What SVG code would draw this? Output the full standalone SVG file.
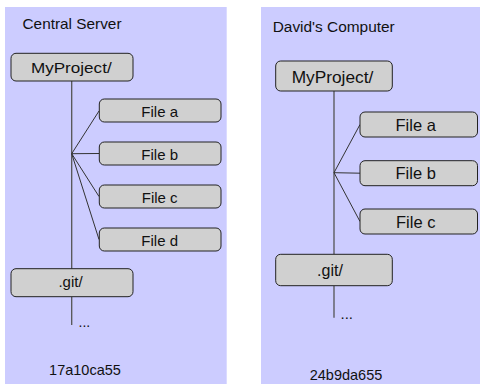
<svg xmlns="http://www.w3.org/2000/svg" width="480" height="384" viewBox="0 0 480 384">
<style>
.panel{fill:#ccccff}
.box{fill:#d0d0d0;stroke:#222;stroke-width:1}
.t{font-family:"Liberation Sans",Arial,sans-serif;fill:#111}
.c{text-anchor:middle}
.ln{stroke:#333;stroke-width:1;fill:none}
.vl{stroke:#555;stroke-width:1.3;fill:none}
</style>
<g id="panel-left">
<rect class="panel" x="5" y="7" width="221.7" height="377"/>
<text class="t" x="22.5" y="29.3" font-size="14.5" textLength="99" lengthAdjust="spacingAndGlyphs">Central Server</text>
<text class="t c" x="85" y="375" font-size="14.5">17a10ca55</text>
</g>
<g id="panel-right">
<rect class="panel" x="261" y="7" width="219" height="377"/>
<text class="t" x="272.7" y="32.3" font-size="15.5" textLength="122" lengthAdjust="spacingAndGlyphs">David's Computer</text>
<text class="t c" x="346" y="380" font-size="14.5">24b9da655</text>
</g>
<g id="connectors">
<path class="vl" d="M71.7 81V268.7M71.7 296.7V325"/>
<path class="ln" d="M71.7 153.7L99 111M71.7 153.7L99 153.5M71.7 153.7L99 196.5M71.7 153.7L99 239.5"/>
<path class="vl" d="M334 91V254.3M334 285.7V317.7"/>
<path class="ln" d="M334 172.7L360 124.5M334 172.7L360 173.2M334 172.7L360 221.5"/>
</g>
<g id="left-myproject"><rect class="box" x="11" y="53.3" width="122" height="27.7" rx="5"/><text class="t c" x="71.3" y="72.5" font-size="15" textLength="80.7" lengthAdjust="spacingAndGlyphs">MyProject/</text></g>
<g id="left-file-a"><rect class="box" x="99.3" y="99" width="121.7" height="23" rx="5"/><text class="t c" x="159.7" y="116.5" font-size="15">File a</text></g>
<g id="left-file-b"><rect class="box" x="99.3" y="142" width="121.7" height="23" rx="5"/><text class="t c" x="159.7" y="159.5" font-size="15">File b</text></g>
<g id="left-file-c"><rect class="box" x="99.3" y="185" width="121.7" height="23" rx="5"/><text class="t c" x="159.7" y="202.5" font-size="15">File c</text></g>
<g id="left-file-d"><rect class="box" x="99.3" y="228" width="121.7" height="23" rx="5"/><text class="t c" x="159.7" y="245.5" font-size="15">File d</text></g>
<g id="left-git"><rect class="box" x="11" y="268.7" width="122" height="28" rx="5"/><text class="t c" x="70.5" y="286.7" font-size="15">.git/</text></g>
<g id="left-dots"><text class="t" x="78.5" y="326.5" font-size="14">...</text></g>
<g id="right-myproject"><rect class="box" x="275.7" y="61" width="116.6" height="30" rx="5"/><text class="t c" x="332.5" y="83.3" font-size="16" textLength="81.7" lengthAdjust="spacingAndGlyphs">MyProject/</text></g>
<g id="right-file-a"><rect class="box" x="360" y="112" width="117.5" height="25" rx="5"/><text class="t c" x="415.7" y="130.7" font-size="16.5">File a</text></g>
<g id="right-file-b"><rect class="box" x="360" y="160.7" width="117.5" height="25" rx="5"/><text class="t c" x="415.7" y="179.4" font-size="16.5">File b</text></g>
<g id="right-file-c"><rect class="box" x="360" y="209" width="117.5" height="25" rx="5"/><text class="t c" x="415.7" y="227.7" font-size="16.5">File c</text></g>
<g id="right-git"><rect class="box" x="275.7" y="254.3" width="116.6" height="31.4" rx="5"/><text class="t c" x="330" y="276" font-size="16">.git/</text></g>
<g id="right-dots"><text class="t" x="340.5" y="318.5" font-size="15">...</text></g>
</svg>
